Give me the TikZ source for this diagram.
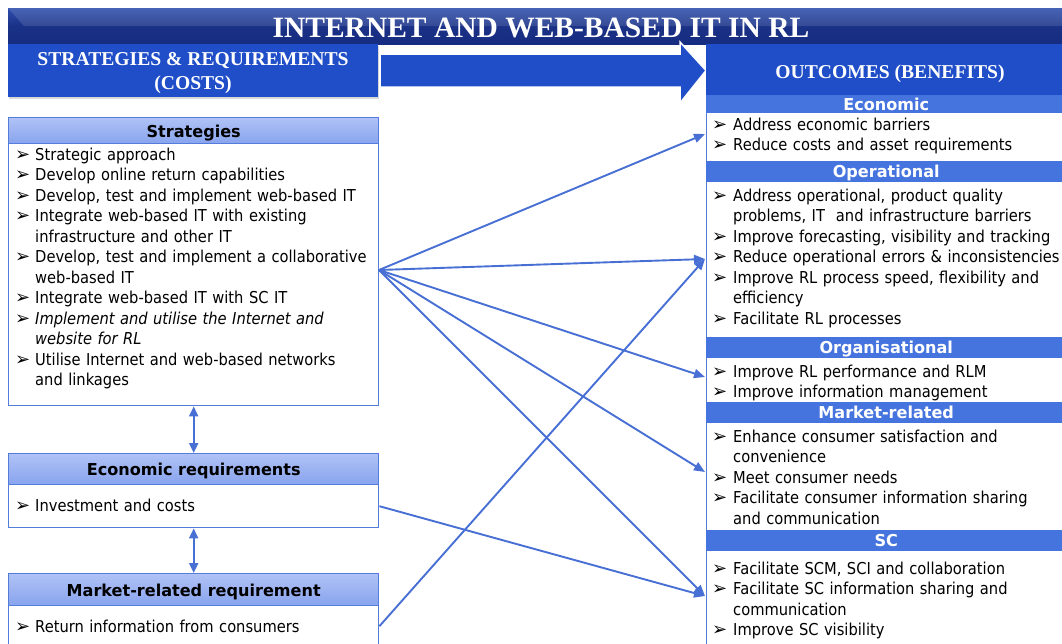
\documentclass[tikz,border=0pt]{standalone}
\usepackage{fontspec}
\setmainfont{DejaVu Sans}[FakeStretch=0.895]
\newfontfamily\headfont{DejaVu Sans}[FakeStretch=0.98]
\newfontfamily\serifhead{Liberation Serif}
\newfontfamily\dingfont{DejaVu Sans}
\usetikzlibrary{arrows.meta,shadows}

\definecolor{bandTop}{RGB}{46,78,172}
\definecolor{bandBot}{RGB}{22,44,128}
\definecolor{banner}{RGB}{31,78,200}
\definecolor{bar}{RGB}{70,116,222}
\definecolor{edge}{RGB}{84,124,218}
\definecolor{headTop}{RGB}{176,194,246}
\definecolor{headBot}{RGB}{136,164,238}
\definecolor{link}{RGB}{72,112,212}

\newcommand\bodysize{\fontsize{16.4}{20.5}\selectfont}
\newcommand\bulletmark{{\dingfont\fontsize{18}{18}\selectfont ➢}}
\newcommand\itm[2][20pt]{\par\hangindent=#1\hangafter=1\noindent\strut\makebox[#1][l]{\bulletmark}#2\strut\par}

\begin{document}
\begin{tikzpicture}[x=1pt,y=-1pt,
  banner/.style={fill=banner, anchor=north west, inner sep=0,
    drop shadow={opacity=0.3, shadow xshift=1pt, shadow yshift=-2pt}},
  bannertext/.style={text=white, font=\serifhead\bfseries\fontsize{19.6}{24}\selectfont, anchor=base, inner sep=0},
  lhead/.style={draw=edge, line width=1.4pt, top color=headTop, bottom color=headBot,
    font=\headfont\bodysize\bfseries, minimum width=370pt, anchor=north west, inner sep=0,
    text height=13.5pt, text depth=0pt},
  lbody/.style={draw=edge, line width=1.4pt, fill=white, minimum width=370pt,
    anchor=north west, inner sep=0},
  rbar/.style={fill=bar, text=white, font=\headfont\bodysize\bfseries, minimum width=360pt,
    anchor=north west, inner sep=0, text height=12.5pt, text depth=0pt},
  list/.style={anchor=north west, inner sep=0, text width=420pt, align=left, font=\bodysize},
  link/.style={draw=link, line width=1.9pt, -{Triangle[length=11pt,width=9pt]}},
  twoway/.style={draw=link, line width=1.9pt,
    {Triangle[length=10pt,width=9pt]}-{Triangle[length=10pt,width=9pt]}}]

\useasboundingbox (0,0) rectangle (1062,643);
\fill[white] (0,0) rectangle (1062,643);

% title band
\shade[top color=bandTop, bottom color=bandBot, middle color=bandBot!85!bandTop]
  (8,8) rectangle (1068,44);
\fill[white, opacity=0.12] (8,8) -- (24,26) -- (1068,26) -- (1068,8) -- cycle;
\node[text=white, font=\serifhead\bfseries\fontsize{29.5}{32}\selectfont, anchor=base, inner sep=0]
  (title) at (541,37) {INTERNET AND WEB-BASED IT IN RL};

% column banners and the arrow between them
\node[banner, minimum width=370pt, minimum height=53pt] (costs) at (8,44) {};
\node[bannertext] (costs1) at (193,65) {STRATEGIES \& REQUIREMENTS};
\node[bannertext] (costs2) at (193,89) {(COSTS)};

\path[fill=banner, draw=white, line width=1.5pt]
  (380,54) -- (680,54) -- (680,42) -- (706,70.5) -- (680,103) -- (680,87) -- (380,87) -- cycle;

% outcomes column
\node[draw=edge, line width=1.4pt, fill=white, minimum width=370pt, minimum height=570pt,
  anchor=north west, inner sep=0] (outcol) at (706,95) {};
\node[banner, minimum width=368pt, minimum height=51pt] (benefits) at (706,44) {};
\node[bannertext] (benefits1) at (890,78) {OUTCOMES (BENEFITS)};

\node[rbar, minimum height=18pt] (eco) at (706,95) {Economic};
\node[rbar, minimum height=21pt] (ops) at (706,161) {Operational};
\node[rbar, minimum height=21pt] (org) at (706,337) {Organisational};
\node[rbar, minimum height=21pt] (mkt) at (706,402) {Market-related};
\node[rbar, minimum height=21pt] (sc)  at (706,530) {SC};

\node[list] (ecolist) at (712,109.65) {%
  \itm[21pt]{Address economic barriers}
  \itm[21pt]{Reduce costs and asset requirements}};
\node[list] (opslist) at (712,180.65) {%
  \itm[21pt]{Address operational, product quality\newline problems, IT\ \ and infrastructure barriers}
  \itm[21pt]{Improve forecasting, visibility and tracking}
  \itm[21pt]{Reduce operational errors \& inconsistencies}
  \itm[21pt]{Improve RL process speed, flexibility and\newline efficiency}
  \itm[21pt]{Facilitate RL processes}};
\node[list] (orglist) at (712,356.65) {%
  \itm[21pt]{Improve RL performance and RLM}
  \itm[21pt]{Improve information management}};
\node[list] (mktlist) at (712,421.65) {%
  \itm[21pt]{Enhance consumer satisfaction and\newline convenience}
  \itm[21pt]{Meet consumer needs}
  \itm[21pt]{Facilitate consumer information sharing\newline and communication}};
\node[list] (sclist) at (712,553.65) {%
  \itm[21pt]{Facilitate SCM, SCI and collaboration}
  \itm[21pt]{Facilitate SC information sharing and\newline communication}
  \itm[21pt]{Improve SC visibility}};

% strategies and requirements boxes
\node[lhead, minimum height=26pt] (strath) at (8,117) {Strategies};
\node[lbody, minimum height=262pt] (stratb) at (8,143) {};
\node[list] (stratlist) at (15,139.65) {%
  \itm{Strategic approach}
  \itm{Develop online return capabilities}
  \itm{Develop, test and implement web-based IT}
  \itm{Integrate web-based IT with existing\newline infrastructure and other IT}
  \itm{Develop, test and implement a collaborative\newline web-based IT}
  \itm{Integrate web-based IT with SC IT}
  \itm{\textit{Implement and utilise the Internet and\newline website for RL}}
  \itm{Utilise Internet and web-based networks\newline and linkages}};

\node[lhead, minimum height=31pt] (ereqh) at (8,453) {Economic requirements};
\node[lbody, minimum height=43pt] (ereqb) at (8,484) {};
\node[list] (ereqlist) at (15,490.65) {\itm{Investment and costs}};

\node[lhead, minimum height=32pt] (mreqh) at (8,573) {Market-related requirement};
\node[lbody, minimum height=41pt] (mreqb) at (8,605) {};
\node[list] (mreqlist) at (15,611.65) {\itm{Return information from consumers}};

% links between the boxes
\draw[twoway] (stratb.south) -- (ereqh.north);
\draw[twoway] (ereqb.south) -- (mreqh.north);

\coordinate (hub) at (379,270);
\coordinate (t-eco) at (705,134);
\coordinate (t-ops) at (705,259);
\coordinate (t-org) at (705,377);
\coordinate (t-mkt) at (705,472);
\coordinate (t-sc) at (705,596);

\draw[link] (hub) -- (t-eco);
\draw[link] (hub) -- (t-ops);
\draw[link] (hub) -- (t-org);
\draw[link] (hub) -- (t-mkt);
\draw[link] (hub) -- (t-sc);
\draw[link] (ereqb.east) -- (t-sc);
\draw[link] (mreqb.east) -- (t-ops);
\end{tikzpicture}
\end{document}
